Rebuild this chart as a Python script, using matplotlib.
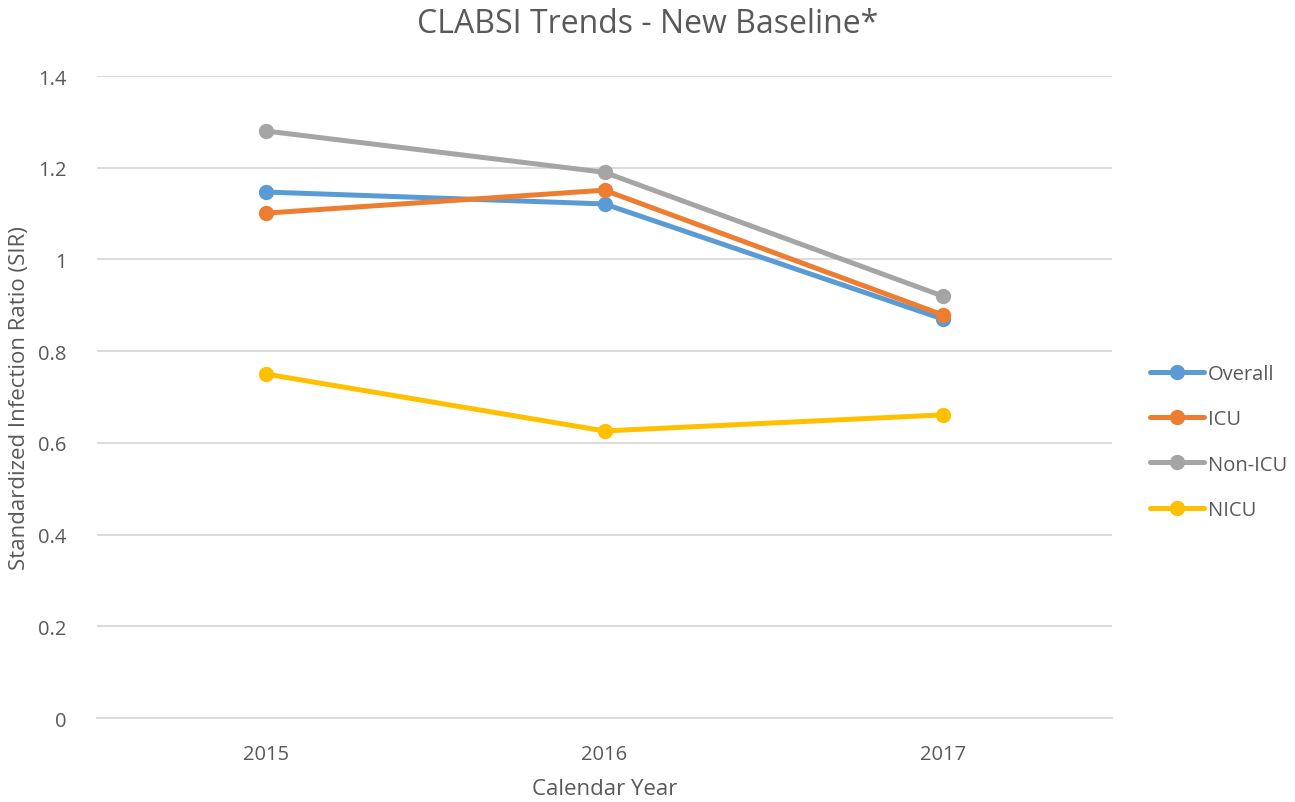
import matplotlib
matplotlib.use("Agg")
import matplotlib.pyplot as plt

# data
years = ["2015", "2016", "2017"]
overall = [1.147, 1.121, 0.870]
icu = [1.101, 1.151, 0.879]
non_icu = [1.280, 1.190, 0.920]
nicu = [0.750, 0.626, 0.661]

series = [("Overall", overall, "#5B9BD5"),
          ("ICU", icu, "#ED7D31"),
          ("Non-ICU", non_icu, "#A5A5A5"),
          ("NICU", nicu, "#FFC000")]

plt.rcParams["font.family"] = ["Open Sans", "DejaVu Sans"]
txt = "#595959"

fig = plt.figure(figsize=(12.95, 8.03), dpi=100)
ax = fig.add_axes([0.0749, 0.1046, 0.7838, 0.7995])

x = range(len(years))
for name, vals, col in series:
    ax.plot(x, vals, color=col, lw=3.6, marker="o", ms=10, label=name,
            solid_capstyle="round")

ax.set_xlim(-0.5, 2.5)
ax.set_ylim(0, 1.4)
ax.set_xticks(list(x))
ax.set_xticklabels(years)
ax.set_yticks([0, 0.2, 0.4, 0.6, 0.8, 1.0, 1.2, 1.4])
ax.set_yticklabels(["0", "0.2", "0.4", "0.6", "0.8", "1", "1.2", "1.4"])
ax.grid(axis="y", color="#D9D9D9", lw=1.3)
ax.set_axisbelow(True)
for s in ["top", "right", "left"]:
    ax.spines[s].set_visible(False)
ax.spines["bottom"].set_color("#D9D9D9")
ax.spines["bottom"].set_linewidth(1.3)
ax.tick_params(axis="both", length=0, labelsize=14.5, colors=txt)
ax.tick_params(axis="x", pad=19)
ax.tick_params(axis="y", pad=22)

ax.set_xlabel("Calendar Year", fontsize=16, color=txt, labelpad=10)
ax.set_ylabel("Standardized Infection Ratio (SIR)", fontsize=16, color=txt, labelpad=6)
fig.suptitle("CLABSI Trends - New Baseline*", fontsize=23, color=txt, y=0.99)

leg = ax.legend(loc="center left", bbox_to_anchor=(1.02, 0.43), frameon=False,
                fontsize=14.5, labelspacing=1.25, handlelength=2.65, handletextpad=0.2)
for t in leg.get_texts():
    t.set_color(txt)

fig.savefig("out.png", dpi=100)
